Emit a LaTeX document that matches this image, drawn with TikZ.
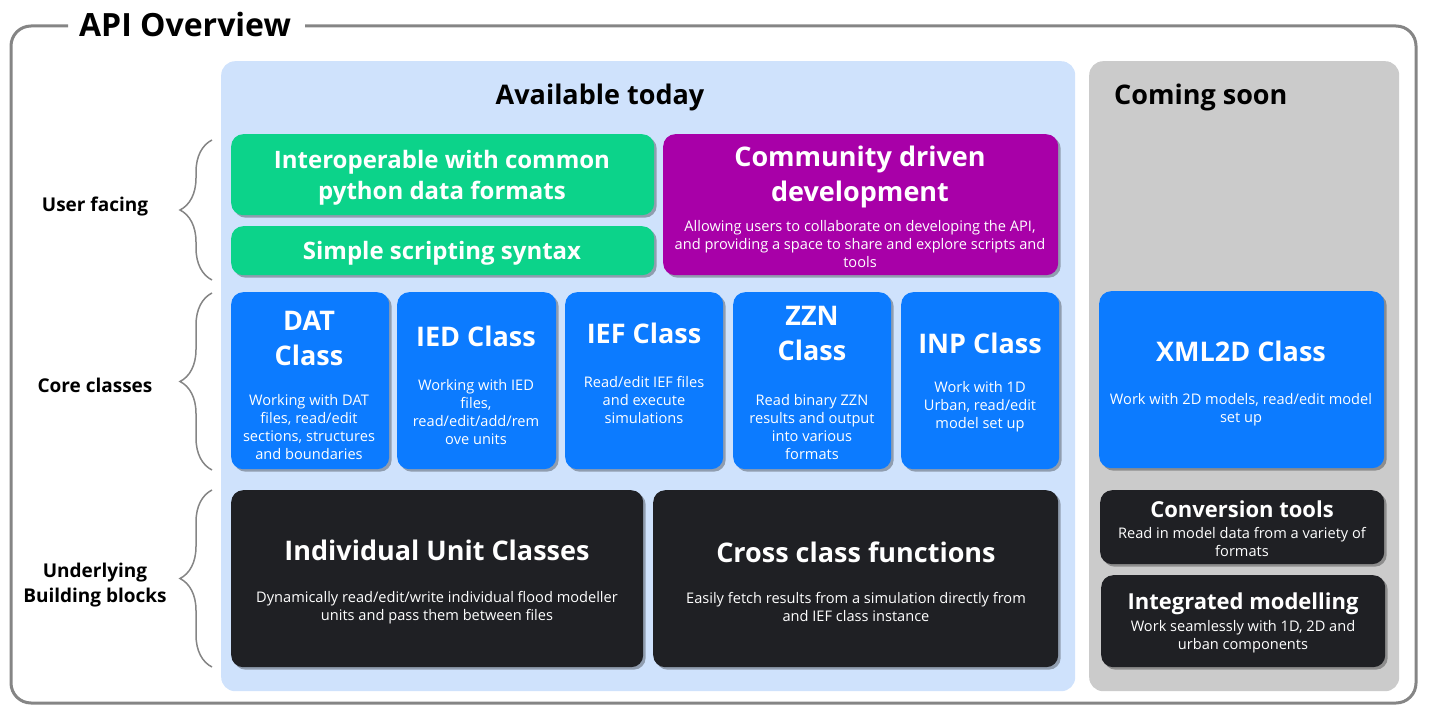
\documentclass[tikz,border=0pt]{standalone}
\usepackage{fontspec}
\setmainfont{Open Sans}
\usetikzlibrary{shadows,decorations.pathreplacing}
\definecolor{frameg}{HTML}{858585}
\definecolor{panelb}{HTML}{CFE2FC}
\definecolor{panelg}{HTML}{CBCBCB}
\definecolor{cgreen}{HTML}{0CD38A}
\definecolor{cpurple}{HTML}{A800A8}
\definecolor{cblue}{HTML}{0C7BFF}
\definecolor{cdark}{HTML}{1F2024}
\tikzset{
  box/.style={draw=none, rounded corners=12pt, anchor=north west, inner sep=0pt,
    drop shadow={shadow xshift=2.5pt, shadow yshift=-2.5pt, opacity=0.3, fill=black}},
  panel/.style={draw=none, rounded corners=14pt, anchor=north west, inner sep=0pt},
  ttl/.style={text=white, align=center, inner sep=0pt, font=\bfseries\fontsize{27}{35}\selectfont},
  gttl/.style={text=white, align=center, inner sep=0pt, font=\bfseries\fontsize{24}{31}\selectfont},
  stl/.style={text=white, align=center, inner sep=0pt, font=\bfseries\fontsize{22}{28}\selectfont},
  dsc/.style={text=white, align=center, inner sep=0pt, font=\fontsize{14.6}{18}\selectfont},
  lbl/.style={text=black, align=center, inner sep=0pt, font=\bfseries\fontsize{19}{25}\selectfont},
  hdr/.style={text=black, inner sep=0pt, font=\bfseries\fontsize{27}{33}\selectfont},
  bracestyle/.style={draw=frameg, line width=1.5pt, decorate, decoration={brace, amplitude=32pt}}
}
\begin{document}
\begin{tikzpicture}[x=1pt,y=-1pt]
\useasboundingbox (0,0) rectangle (1429,714);
% outer frame
\draw[frameg, line width=3pt, rounded corners=20pt] (68,26) -- (11,26) -- (11,703) -- (1416,703) -- (1416,26) -- (305,26);
\node[inner sep=0pt, font=\bfseries\fontsize{32}{38}\selectfont] (title) at (185,25) {API Overview};
% panels
\node[panel, fill=panelb, minimum width=854pt, minimum height=630pt] (avail) at (221,61) {};
\node[panel, fill=panelg, minimum width=310pt, minimum height=630pt] (soon) at (1089,61) {};
\node[hdr] (availT) at (600,97.5) {Available today};
\node[hdr, anchor=west] (soonT) at (1114,97.5) {Coming soon};
% user facing
\node[box, fill=cgreen, minimum width=423pt, minimum height=81pt] (g1) at (231,134) {};
\node[gttl] (g1T) at (442,177.5) {Interoperable with common\\python data formats};
\node[box, fill=cgreen, minimum width=423pt, minimum height=49pt] (g2) at (231,226) {};
\node[gttl] (g2T) at (442,253.5) {Simple scripting syntax};
\node[box, fill=cpurple, minimum width=395pt, minimum height=141pt] (pu) at (663,134) {};
\node[ttl] (puT) at (860,177) {Community driven\\development};
\node[dsc] (puD) at (860,244) {Allowing users to collaborate on developing the API,\\and providing a space to share and explore scripts and\\tools};
% core classes
\node[box, fill=cblue, minimum width=158pt, minimum height=177pt] (dat) at (231,292) {};
\node[ttl] (datT) at (309,338) {DAT\\Class};
\node[dsc] (datD) at (309,427) {Working with DAT\\files, read/edit\\sections, structures\\and boundaries};
\node[box, fill=cblue, minimum width=159pt, minimum height=177pt] (ied) at (397,292) {};
\node[ttl] (iedT) at (476,336) {IED Class};
\node[dsc] (iedD) at (476,412) {Working with IED\\files,\\read/edit/add/rem\\ove units};
\node[box, fill=cblue, minimum width=158pt, minimum height=177pt] (ief) at (565,292) {};
\node[ttl] (iefT) at (644,333) {IEF Class};
\node[dsc] (iefD) at (644,400) {Read/edit IEF files\\and execute\\simulations};
\node[box, fill=cblue, minimum width=158pt, minimum height=177pt] (zzn) at (733,292) {};
\node[ttl] (zznT) at (812,333) {ZZN\\Class};
\node[dsc] (zznD) at (812,427) {Read binary ZZN\\results and output\\into various\\formats};
\node[box, fill=cblue, minimum width=158pt, minimum height=177pt] (inp) at (901,292) {};
\node[ttl] (inpT) at (980,343) {INP Class};
\node[dsc] (inpD) at (980,407) {Work with 1D\\Urban, read/edit\\model set up};
\node[box, fill=cblue, minimum width=285pt, minimum height=177pt] (xml) at (1099,291) {};
\node[ttl] (xmlT) at (1241,351) {XML2D Class};
\node[dsc] (xmlD) at (1241,410) {Work with 2D models, read/edit model\\set up};
% underlying
\node[box, fill=cdark, minimum width=412pt, minimum height=177pt] (ind) at (231,490) {};
\node[ttl] (indT) at (437,550) {Individual Unit Classes};
\node[dsc] (indD) at (437,608) {Dynamically read/edit/write individual flood modeller\\units and pass them between files};
\node[box, fill=cdark, minimum width=405pt, minimum height=177pt] (cross) at (653,490) {};
\node[ttl] (crossT) at (856,552) {Cross class functions};
\node[dsc] (crossD) at (856,607) {Easily fetch results from a simulation directly from\\and IEF class instance};
\node[box, fill=cdark, minimum width=284pt, minimum height=74pt] (conv) at (1100,490) {};
\node[stl] (convT) at (1242,509) {Conversion tools};
\node[dsc] (convD) at (1242,542) {Read in model data from a variety of\\formats};
\node[box, fill=cdark, minimum width=284pt, minimum height=92pt] (integ) at (1101,575) {};
\node[stl] (integT) at (1243,604) {Integrated modelling};
\node[dsc] (integD) at (1243,637) {Work seamlessly with 1D, 2D and\\urban components};
% braces and labels
\coordinate (b1a) at (212,280); \coordinate (b1b) at (212,140);
\coordinate (b2a) at (212,470); \coordinate (b2b) at (212,293);
\coordinate (b3a) at (212,667); \coordinate (b3b) at (212,490);
\draw[bracestyle] (b1a) -- (b1b);
\draw[bracestyle] (b2a) -- (b2b);
\draw[bracestyle] (b3a) -- (b3b);
\node[lbl] (l1) at (95,206.5) {User facing};
\node[lbl] (l2) at (95,385) {Core classes};
\node[lbl] (l3) at (95,585) {Underlying\\Building blocks};
\end{tikzpicture}
\end{document}
